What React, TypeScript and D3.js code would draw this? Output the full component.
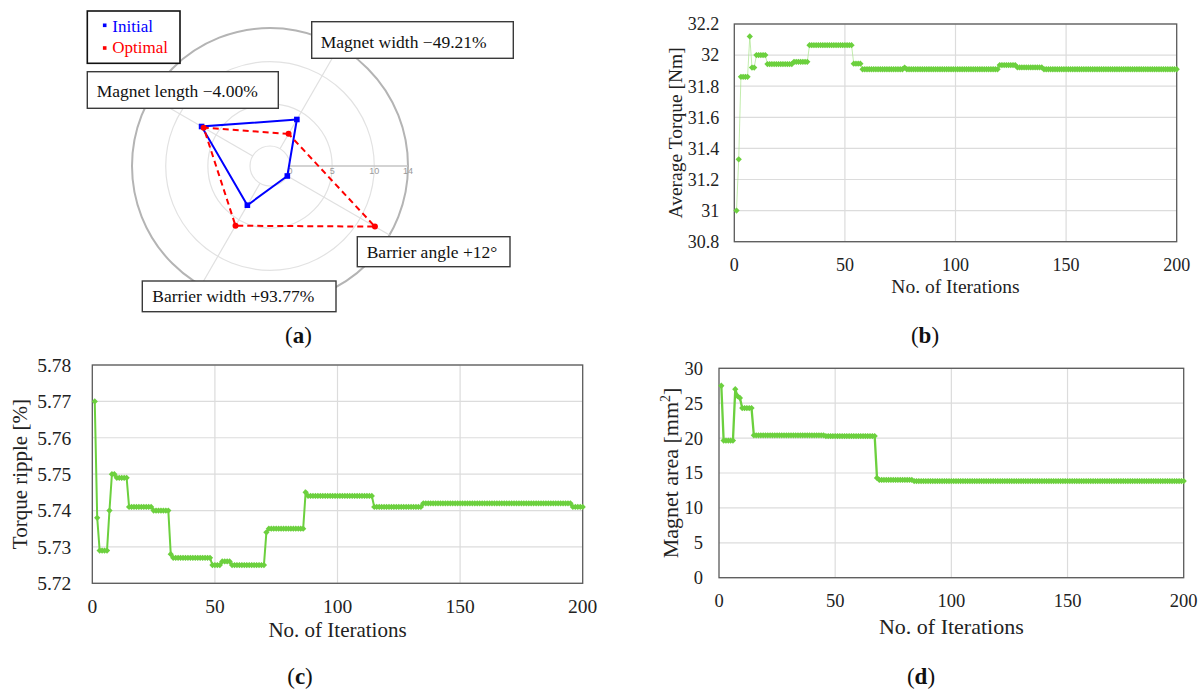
import React from "react";
import * as d3 from "d3";

// ---------- Radar (a): design variables, initial vs optimal ----------
const radarAxes = ["Magnet width", "Magnet length", "Barrier width", "Barrier angle"];
const radarAngles = [60, 150, 240, 330]; // degrees, counter-clockwise from +x
const radarInitial = [4.0, 7.0, 3.0, 0.0];
const radarOptimal = [2.03, 6.72, 5.81, 12.0];
const radarTicks = [0, 5, 10, 14];
const radarLabels = [
  "Magnet width \u221249.21%",
  "Magnet length \u22124.00%",
  "Barrier width +93.77%",
  "Barrier angle +12\u00b0",
];

// ---------- Iteration histories, stored as [iteration, value] change points ----------
const iterationCount = 200;
const iterationTicks = [0, 50, 100, 150, 200];

const torqueSteps: [number, number][] = [
  [1, 31.0], [2, 31.33], [3, 31.86], [7, 32.12], [8, 31.92], [10, 32.0],
  [15, 31.942], [27, 31.957], [34, 32.064], [54, 31.945], [58, 31.909],
  [77, 31.92], [78, 31.909], [120, 31.936], [128, 31.921], [140, 31.909],
];
const torqueTicks = [30.8, 31, 31.2, 31.4, 31.6, 31.8, 32, 32.2];

const rippleSteps: [number, number][] = [
  [1, 5.770], [2, 5.738], [3, 5.729], [7, 5.740], [8, 5.750], [10, 5.749],
  [15, 5.741], [25, 5.740], [32, 5.728], [33, 5.727], [49, 5.725], [53, 5.726],
  [57, 5.725], [71, 5.734], [72, 5.735], [87, 5.745], [88, 5.744], [115, 5.741],
  [135, 5.742], [196, 5.741],
];
const rippleTicks = [5.72, 5.73, 5.74, 5.75, 5.76, 5.77, 5.78];

const areaSteps: [number, number][] = [
  [1, 27.5], [2, 19.65], [7, 27.0], [8, 26.0], [9, 25.75], [10, 24.3],
  [15, 20.4], [46, 20.3], [68, 14.3], [69, 14.0], [84, 13.85],
];
const areaTicks = [0, 5, 10, 15, 20, 25, 30];

const GREEN = "#6cd03e";
const SERIF = "'Liberation Serif', 'Times New Roman', serif";

function holdSteps(steps: [number, number][], last: number) {
  const out: { it: number; v: number }[] = [];
  let k = 0;
  for (let it = steps[0][0]; it <= last; it++) {
    while (k + 1 < steps.length && steps[k + 1][0] <= it) k++;
    out.push({ it, v: steps[k][1] });
  }
  return out;
}

type PanelProps = {
  box: { left: number; right: number; top: number; bottom: number };
  steps: [number, number][];
  yTicks: number[];
  yFmt: (v: number) => string;
  yTitle: React.ReactNode;
  yTitleX: number;
  tickSize: number;
  titleSize: number;
  yLabelGap: number;
  xLabelOffset: number;
  xTitleY: number;
  lineWidth: number;
  lineColor: string;
};

function HistoryPanel(p: PanelProps) {
  const { box } = p;
  const x = d3.scaleLinear().domain([0, iterationCount]).range([box.left, box.right]);
  const y = d3
    .scaleLinear()
    .domain([p.yTicks[0], p.yTicks[p.yTicks.length - 1]])
    .range([box.bottom, box.top]);
  const pts = holdSteps(p.steps, iterationCount);
  const line = d3
    .line<{ it: number; v: number }>()
    .x((d) => x(d.it))
    .y((d) => y(d.v));
  const marker = d3.symbol(d3.symbolDiamond2, 25)() as string;
  const midY = (box.top + box.bottom) / 2;
  return (
    <g>
      {p.yTicks.map((t) => (
        <line key={"hy" + t} x1={box.left} x2={box.right} y1={y(t)} y2={y(t)} stroke="#dcdcdc" strokeWidth={1.2} />
      ))}
      {iterationTicks.slice(1, -1).map((t) => (
        <line key={"vx" + t} x1={x(t)} x2={x(t)} y1={box.top} y2={box.bottom} stroke="#dcdcdc" strokeWidth={1.2} />
      ))}
      <rect x={box.left} y={box.top} width={box.right - box.left} height={box.bottom - box.top} fill="none" stroke="#5a5a5a" strokeWidth={1.3} />
      <path d={line(pts) as string} fill="none" stroke={p.lineColor} strokeWidth={p.lineWidth} />
      {pts.map((d) => (
        <path key={d.it} d={marker} transform={`translate(${x(d.it)},${y(d.v)})`} fill={GREEN} />
      ))}
      {p.yTicks.map((t) => (
        <text key={"ly" + t} x={box.left - p.yLabelGap} y={y(t)} dy="0.35em" textAnchor="end" fontSize={p.tickSize} fontFamily={SERIF} fill="#222">
          {p.yFmt(t)}
        </text>
      ))}
      {iterationTicks.map((t) => (
        <text key={"lx" + t} x={x(t)} y={box.bottom + p.xLabelOffset} dy="0.35em" textAnchor="middle" fontSize={p.tickSize} fontFamily={SERIF} fill="#222">
          {t}
        </text>
      ))}
      <text x={(box.left + box.right) / 2} y={p.xTitleY} textAnchor="middle" fontSize={p.titleSize} fontFamily={SERIF} fill="#222">
        No. of Iterations
      </text>
      <text transform={`translate(${p.yTitleX},${midY}) rotate(-90)`} dy="0.35em" textAnchor="middle" fontSize={p.titleSize} fontFamily={SERIF} fill="#222">
        {p.yTitle}
      </text>
    </g>
  );
}

function Radar() {
  const cx = 270;
  const cy = 166;
  const r = d3.scaleLinear().domain([0, 14]).range([20, 138]);
  const pt = (i: number, v: number): [number, number] => {
    const a = (radarAngles[i] * Math.PI) / 180;
    return [cx + r(v) * Math.cos(a), cy - r(v) * Math.sin(a)];
  };
  const poly = (vals: number[]) =>
    (d3.line()(vals.map((v, i) => pt(i, v))) as string) + "Z";
  const boxes = [
    { x0: 311.7, y0: 21.7, x1: 513.3, y1: 58.3, tx: 320.7, ty: 48 },
    { x0: 87.3, y0: 71.7, x1: 278.3, y1: 108.3, tx: 96.7, ty: 97.3 },
    { x0: 142.3, y0: 281, x1: 336, y1: 311.7, tx: 152.3, ty: 301.7 },
    { x0: 357.3, y0: 236.7, x1: 510, y1: 266.7, tx: 366.7, ty: 257.7 },
  ];
  return (
    <g>
      {radarTicks.slice(0, -1).map((t) => (
        <circle key={t} cx={cx} cy={cy} r={r(t)} fill="none" stroke="#e2e2e2" strokeWidth={1.2} />
      ))}
      <circle cx={cx} cy={cy} r={r(14)} fill="none" stroke="#b4b4b4" strokeWidth={2} />
      {radarAxes.map((name, i) => {
        const [x0, y0] = pt(i, 0);
        const [x1, y1] = pt(i, 14);
        return <line key={name} x1={x0} y1={y0} x2={x1} y2={y1} stroke="#e0e0e0" strokeWidth={1.2} />;
      })}
      <line x1={cx + r(0)} x2={cx + r(14)} y1={cy} y2={cy} stroke="#c4c4c4" strokeWidth={1.6} />
      {radarTicks.map((t) => (
        <text key={"rt" + t} x={cx + r(t)} y={cy + 8} textAnchor="middle" fontSize={9} fontFamily="'Liberation Sans', Arial, sans-serif" fill="#9a9a9a">
          {t}
        </text>
      ))}
      <path d={poly(radarInitial)} fill="none" stroke="#0000ff" strokeWidth={2} />
      <path d={poly(radarOptimal)} fill="none" stroke="#ff0000" strokeWidth={2} strokeDasharray="6 4" />
      {radarInitial.map((v, i) => {
        const [x, y] = pt(i, v);
        return <rect key={"bi" + i} x={x - 2.8} y={y - 2.8} width={5.6} height={5.6} fill="#0000ff" />;
      })}
      {radarOptimal.map((v, i) => {
        const [x, y] = pt(i, v);
        return <circle key={"ro" + i} cx={x} cy={y} r={3} fill="#ff0000" />;
      })}
      {boxes.map((b, i) => (
        <g key={"box" + i}>
          <rect x={b.x0} y={b.y0} width={b.x1 - b.x0} height={b.y1 - b.y0} fill="#fff" stroke="#3a3a3a" strokeWidth={1.4} />
          <text x={b.tx} y={b.ty} fontSize={17.5} fontFamily={SERIF} fill="#111">
            {radarLabels[i]}
          </text>
        </g>
      ))}
      <rect x={87.3} y={11} width={92.7} height={52.3} fill="#fff" stroke="#111" strokeWidth={1.6} />
      <rect x={102.9} y={23.5} width={3.6} height={3.6} fill="#0000ff" />
      <rect x={102.9} y={46.2} width={3.6} height={3.6} fill="#ff0000" />
      <text x={112.3} y={32} fontSize={17} fontFamily={SERIF} fill="#0000ff">Initial</text>
      <text x={112.3} y={53} fontSize={17} fontFamily={SERIF} fill="#ff0000">Optimal</text>
    </g>
  );
}

function PanelTag({ x, y, letter }: { x: number; y: number; letter: string }) {
  return (
    <text x={x} y={y} textAnchor="middle" fontSize={23} fontFamily={SERIF} fill="#111">
      (<tspan fontWeight="bold">{letter}</tspan>)
    </text>
  );
}

export default function App() {
  const fmt1 = (v: number) => d3.format("~f")(+v.toFixed(1));
  const fmt2 = (v: number) => v.toFixed(2);
  return (
    <div style={{ position: "absolute", left: 0, top: 0 }}>
      <svg width={1202} height={691} style={{ display: "block", background: "#fff" }}>
        <Radar />
        <PanelTag x={298.5} y={343} letter="a" />

        <HistoryPanel
          box={{ left: 734.3, right: 1176.7, top: 24, bottom: 241.7 }}
          steps={torqueSteps}
          yTicks={torqueTicks}
          yFmt={fmt1}
          yTitle="Average Torque [Nm]"
          yTitleX={675}
          tickSize={18}
          titleSize={19.5}
          yLabelGap={15}
          xLabelOffset={23}
          xTitleY={293}
          lineWidth={0.7}
          lineColor="#a8e48a"
        />
        <PanelTag x={925} y={343} letter="b" />

        <HistoryPanel
          box={{ left: 92.3, right: 582.7, top: 365, bottom: 583.3 }}
          steps={rippleSteps}
          yTicks={rippleTicks}
          yFmt={fmt2}
          yTitle="Torque ripple [%]"
          yTitleX={20}
          tickSize={19.5}
          titleSize={21}
          yLabelGap={21}
          xLabelOffset={23}
          xTitleY={637}
          lineWidth={2}
          lineColor={GREEN}
        />
        <PanelTag x={300} y={684} letter="c" />

        <HistoryPanel
          box={{ left: 719, right: 1183.7, top: 368.3, bottom: 577.7 }}
          steps={areaSteps}
          yTicks={areaTicks}
          yFmt={(v) => String(v)}
          yTitle={
            <>
              Magnet area [mm<tspan dy={-8} fontSize={14}>2</tspan>
              <tspan dy={8}>]</tspan>
            </>
          }
          yTitleX={670}
          tickSize={18.5}
          titleSize={22}
          yLabelGap={16}
          xLabelOffset={23}
          xTitleY={634}
          lineWidth={2.3}
          lineColor={GREEN}
        />
        <PanelTag x={921} y={684} letter="d" />
      </svg>
    </div>
  );
}
